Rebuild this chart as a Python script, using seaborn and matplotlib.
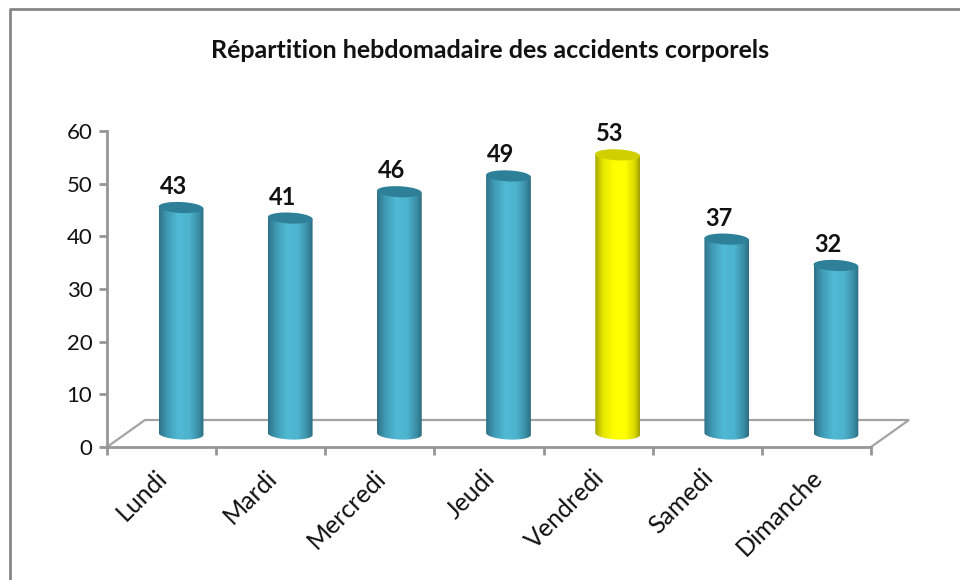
import numpy as np
import pandas as pd
import matplotlib
matplotlib.use("Agg")
import matplotlib.pyplot as plt
from matplotlib.colors import LinearSegmentedColormap
from matplotlib.lines import Line2D
from matplotlib.patches import PathPatch, Polygon
from matplotlib.path import Path
from matplotlib.transforms import ScaledTranslation
import seaborn as sns

# Data
jours = ["Lundi", "Mardi", "Mercredi", "Jeudi", "Vendredi", "Samedi", "Dimanche"]
accidents = [43, 41, 46, 49, 53, 37, 32]
y_ticks = [0, 10, 20, 30, 40, 50, 60]
titre = "Répartition hebdomadaire des accidents corporels"

W, H = 960, 580
GRAY = "#969696"
sns.set_theme(style="white")
plt.rcParams["font.family"] = ["Lato", "DejaVu Sans"]

fig = plt.figure(figsize=(W / 100, H / 100), dpi=100, facecolor="white")


def box(x0, x1, y_top, y_bot):
    return [x0 / W, 1 - y_bot / H, (x1 - x0) / W, (y_bot - y_top) / H]


# Outer chart frame, only top and left are visible
fig.add_artist(Line2D([9.5 / W, 9.5 / W, 1.01], [-0.01, 1 - 9 / H, 1 - 9 / H],
                      color="#868686", lw=2.0, transform=fig.transFigure))

# ── Front axes: ticks, labels, floor ─────────────────────────────────────────
ax = fig.add_axes(box(107, 871, 131, 447))
ax.set_facecolor("none")
ax.set_xlim(-0.5, 6.5)
ax.set_ylim(0, 60)
sns.despine(ax=ax)
for side in ["left", "bottom"]:
    ax.spines[side].set_color(GRAY)
    ax.spines[side].set_linewidth(2.0)
ax.set_yticks(y_ticks)
ax.set_yticklabels(y_ticks, fontsize=16, color="#111111")
ax.set_xticks(np.arange(-0.5, 7))
ax.set_xticklabels([])
ax.set_xticks(range(len(jours)), minor=True)
ax.set_xticklabels(jours, minor=True, rotation=45, ha="right", va="top",
                   rotation_mode="anchor", fontsize=18, color="#111111")
ax.tick_params(axis="both", which="major", length=5.5, width=2.0, color=GRAY,
               left=True, bottom=True, pad=5)
ax.tick_params(axis="x", which="minor", length=0, pad=13.5)
# nudge the label anchors off the category centre
for lab in ax.get_xticklabels(minor=True):
    lab.set_transform(lab.get_transform() + ScaledTranslation(-6 / 100, 0, fig.dpi_scale_trans))

# Floor outline, in axes fractions
floor_dx, floor_dy = 38 / 764, 27 / 316
ax.plot([0, floor_dx, 1 + floor_dx, 1], [0, floor_dy, floor_dy, 0], color="#a3a3a3",
        lw=1.6, transform=ax.transAxes, clip_on=False, solid_joinstyle="miter")

# ── Bars: same scale, shifted into the depth of the floor ────────────────────
axb = fig.add_axes(box(107 + 19.5, 871 + 19.5, 131 - 13, 447 - 13))
axb.set_facecolor("none")
df = pd.DataFrame({"jour": jours, "accidents": accidents})
base_col = ["#4fb7d2"] * 7
base_col[jours.index("Vendredi")] = "#ffff00"
sns.barplot(data=df, x="jour", y="accidents", hue="jour", palette=base_col,
            legend=False, width=0.41, saturation=1, ax=axb)
axb.set_xlim(-0.5, 6.5)
axb.set_ylim(0, 60)
axb.axis("off")

blue = LinearSegmentedColormap.from_list(
    "cyl_b", [(0, "#2f7287"), (0.18, "#3f9ab4"), (0.42, "#50b9d4"), (0.68, "#4db3ce"),
              (0.88, "#3a8ea6"), (1, "#2c6c80")])
yellow = LinearSegmentedColormap.from_list(
    "cyl_y", [(0, "#a8a800"), (0.18, "#e6e600"), (0.42, "#ffff00"), (0.68, "#ffff00"),
              (0.88, "#dada00"), (1, "#a0a000")])
ell_h = 11 * 60 / 316  # ellipse height in data units
tilt = 1.0 * 60 / 316  # ellipses lean up to the right
theta = np.linspace(np.pi, 2 * np.pi, 40)
circle = np.linspace(0, 2 * np.pi, 80)
grad = np.linspace(0, 1, 128)[None, :]

for patch, jour, val in zip(list(axb.patches), jours, accidents):
    x0, w = patch.get_x(), patch.get_width()
    xc = x0 + w / 2
    top = patch.get_height()
    is_y = jour == "Vendredi"
    patch.set_visible(False)
    # cylinder body, gradient clipped to the body with rounded base
    xs = np.r_[x0, xc + w / 2 * np.cos(theta), x0 + w, x0]
    ys = np.r_[top + tilt, ell_h / 2 * np.sin(theta) - tilt * np.cos(theta), top - tilt, top + tilt]
    body = PathPatch(Path(np.c_[xs, ys]), fc="none", ec="none", transform=axb.transData, clip_on=False)
    axb.add_patch(body)
    im = axb.imshow(grad, cmap=yellow if is_y else blue, aspect="auto", zorder=2,
                    extent=(x0, x0 + w, -ell_h, top + ell_h), interpolation="bilinear")
    im.set_clip_box(fig.bbox)
    im.set_clip_path(body)
    cap = np.c_[xc + w / 2 * np.cos(circle),
                top + ell_h / 2 * np.sin(circle) - tilt * np.cos(circle)]
    axb.add_patch(Polygon(cap, fc="#d0d000" if is_y else "#2e8099", ec="none",
                          zorder=3, clip_on=False))
    axb.annotate(str(val), (xc, top), xytext=(-8 * 0.72, 21 * 0.72),
                 textcoords="offset points", ha="center", va="center",
                 fontsize=17, fontweight="bold", color="#111111", annotation_clip=False)
axb.set_xlim(-0.5, 6.5)
axb.set_ylim(0, 60)

fig.text(490 / W, 1 - 50 / H, titre, ha="center", va="center",
         fontsize=18, fontweight="bold", color="#111111")

plt.savefig("out.png", dpi=100)
plt.close()
